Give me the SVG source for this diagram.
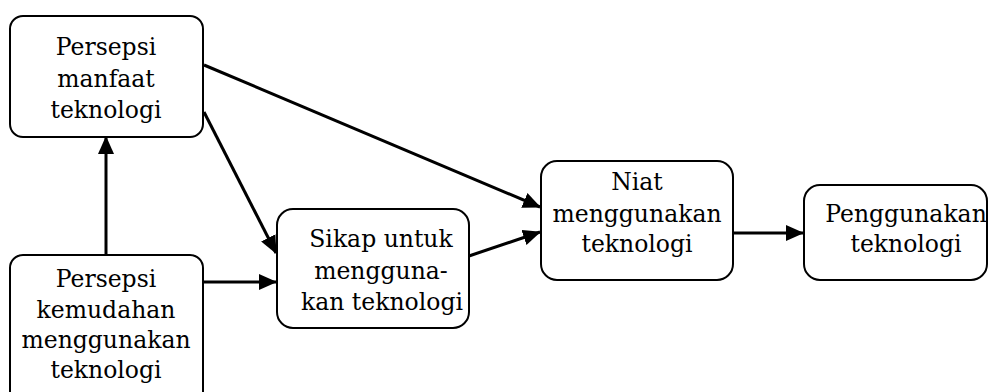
<svg xmlns="http://www.w3.org/2000/svg" width="988" height="392" viewBox="0 0 988 392">
<defs>
<style>
.box{fill:#fff;stroke:#000;stroke-width:2}
.t{font-family:"DejaVu Serif","Liberation Serif",serif;font-size:23.5px;fill:#000;text-anchor:middle}
.c{stroke:#000;stroke-width:3;fill:none;marker-end:url(#ah)}
</style>
<marker id="ah" markerUnits="userSpaceOnUse" markerWidth="18" markerHeight="16" viewBox="0 0 18 16" refX="17" refY="8" orient="auto">
<path d="M0,0 L18,8 L0,16 Z" fill="#000"/>
</marker>
</defs>
<rect width="988" height="392" fill="#fff"/>
<g id="connectors">
<line class="c" x1="106" y1="255" x2="106" y2="137"/>
<line class="c" x1="204" y1="65" x2="540" y2="207"/>
<line class="c" x1="204" y1="112" x2="276" y2="253"/>
<line class="c" x1="203" y1="282" x2="276" y2="282"/>
<line class="c" x1="469" y1="256" x2="540" y2="232"/>
<line class="c" x1="733" y1="233" x2="803" y2="233"/>
</g>
<g id="node-manfaat">
<rect class="box" x="10" y="16" width="193" height="121" rx="13"/>
<text class="t" x="106" y="55">Persepsi</text>
<text class="t" x="106" y="87">manfaat</text>
<text class="t" x="106" y="118">teknologi</text>
</g>
<g id="node-kemudahan">
<rect class="box" x="10" y="255" width="193" height="150" rx="13"/>
<text class="t" x="106" y="287">Persepsi</text>
<text class="t" x="106" y="318">kemudahan</text>
<text class="t" x="106" y="348">menggunakan</text>
<text class="t" x="106" y="378">teknologi</text>
</g>
<g id="node-sikap">
<rect class="box" x="277" y="209" width="192" height="119" rx="16"/>
<text class="t" x="381" y="247">Sikap untuk</text>
<text class="t" x="381" y="279">mengguna-</text>
<text class="t" x="382" y="310">kan teknologi</text>
</g>
<g id="node-niat">
<rect class="box" x="541" y="161" width="192" height="119" rx="16"/>
<text class="t" x="637" y="190">Niat</text>
<text class="t" x="637" y="222">menggunakan</text>
<text class="t" x="637" y="252">teknologi</text>
</g>
<g id="node-penggunaan">
<rect class="box" x="804" y="185" width="183" height="95" rx="16"/>
<text class="t" x="906" y="222">Penggunakan</text>
<text class="t" x="906" y="252">teknologi</text>
</g>
</svg>
